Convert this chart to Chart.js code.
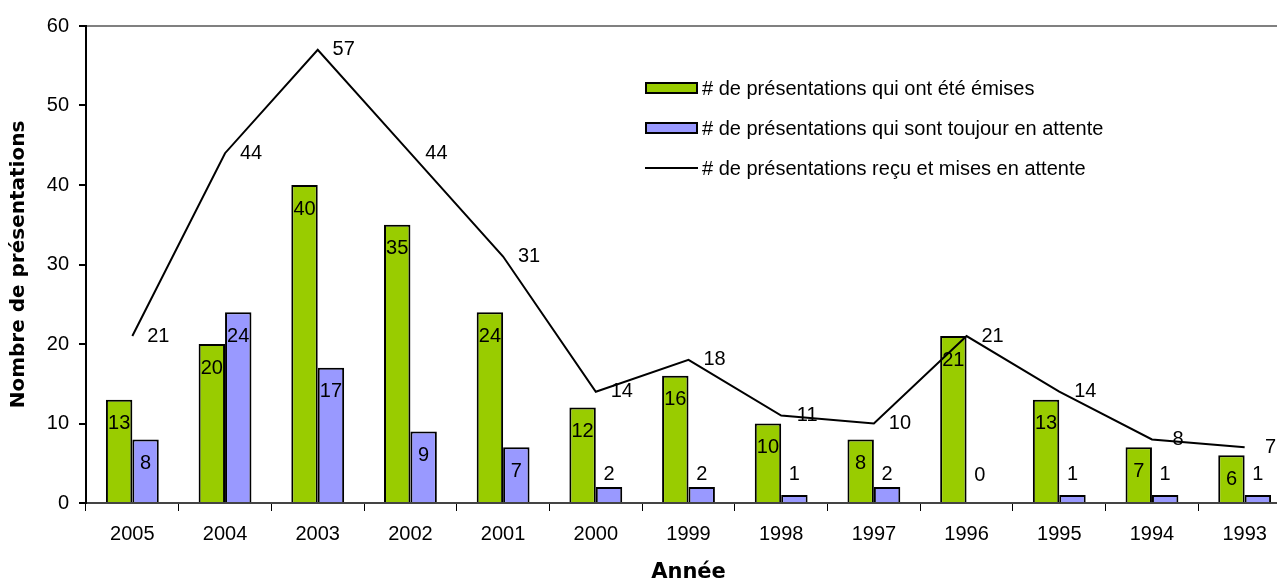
<!DOCTYPE html>
<html>
<head>
<meta charset="UTF-8"/>
<title>Présentations par année</title>
<script src="https://cdn.jsdelivr.net/npm/chart.js@4"></script>
<style>
    html, body { margin: 0; padding: 0; background: #fff; overflow: hidden; }
    #wrap { position: relative; width: 1292px; height: 582px; }
    #legend { position: absolute; left: 645px; top: 76px; font-family: "Liberation Sans", Arial, sans-serif; font-size: 20px; color: #000; }
    .row { display: flex; align-items: center; height: 24px; margin-bottom: 16px; white-space: nowrap; }
    .sw { width: 49px; height: 8px; border: 2px solid #000; margin-right: 4px; }
    .ln { width: 53px; height: 2px; background: #000; margin-right: 4px; }
</style>
</head>
<body>
<div id="wrap">
    <canvas id="chart"></canvas>
    <div id="legend"></div>
</div>
<script>
    // données du graphique
    var annees = ['2005', '2004', '2003', '2002', '2001', '2000', '1999', '1998', '1997', '1996', '1995', '1994', '1993'];
    var emises = [13, 20, 40, 35, 24, 12, 16, 10, 8, 21, 13, 7, 6];
    var enAttente = [8, 24, 17, 9, 7, 2, 2, 1, 2, 0, 1, 1, 1];
    var recues = [21, 44, 57, 44, 31, 14, 18, 11, 10, 21, 14, 8, 7];
    var yTicks = [0, 10, 20, 30, 40, 50, 60];

    var nomEmises = '# de présentations qui ont été émises';
    var nomAttente = '# de présentations qui sont toujour en attente';
    var nomRecues = '# de présentations reçu et mises en attente';

    var police = '"Liberation Sans", Arial, sans-serif';
    var policeTitre = '"DejaVu Sans", sans-serif';

    // étiquettes de valeurs (comme dans Excel)
    var etiquettes = {
        id: 'etiquettes',
        afterDatasetsDraw: function(chart) {
            var ctx = chart.ctx;
            ctx.save();
            ctx.font = '20px ' + police;
            ctx.fillStyle = '#000';
            ctx.textAlign = 'center';
            ctx.textBaseline = 'middle';
            chart.data.datasets.forEach(function(ds, i) {
                var meta = chart.getDatasetMeta(i);
                meta.data.forEach(function(el, j) {
                    var v = ds.data[j];
                    if (ds.type === 'line') {
                        ctx.fillText(v, el.x + 26, el.y);
                    } else {
                        var y = el.y + 24;
                        if (el.base - el.y < 22) y = el.base - 28;
                        ctx.fillText(v, el.x, y);
                    }
                });
            });
            ctx.restore();
        }
    };

    var ctx = document.getElementById('chart').getContext('2d');
    var chart = new Chart(ctx, {
        data: {
            labels: annees,
            datasets: [
                {
                    type: 'line',
                    label: nomRecues,
                    data: recues,
                    borderColor: '#000',
                    borderWidth: 2,
                    pointRadius: 0,
                    tension: 0,
                    order: 0
                },
                {
                    type: 'bar',
                    label: nomEmises,
                    data: emises,
                    backgroundColor: '#99cc00',
                    borderColor: '#000',
                    borderWidth: 2,
                    categoryPercentage: 0.57,
                    barPercentage: 1,
                    order: 1
                },
                {
                    type: 'bar',
                    label: nomAttente,
                    data: enAttente,
                    backgroundColor: '#9999ff',
                    borderColor: '#000',
                    borderWidth: 2,
                    categoryPercentage: 0.57,
                    barPercentage: 1,
                    order: 1
                }
            ]
        },
        options: {
            responsive: true,
            maintainAspectRatio: false,
            animation: false,
            layout: { padding: { top: 26, right: 1, left: 0, bottom: 0 } },
            plugins: {
                legend: { display: false },
                tooltip: { enabled: false }
            },
            scales: {
                x: {
                    offset: true,
                    grid: {
                        offset: true,
                        color: 'rgba(0,0,0,0)',
                        tickColor: '#000',
                        tickLength: 8
                    },
                    border: { color: '#444', width: 2 },
                    ticks: { color: '#000', font: { family: police, size: 20 }, padding: 11 },
                    title: {
                        display: true,
                        text: 'Année',
                        color: '#000',
                        font: { family: policeTitre, size: 21, weight: 'bold' },
                        padding: { top: 0, bottom: -3 }
                    },
                    afterFit: function(s) { s.height = 79; }
                },
                y: {
                    min: 0,
                    max: 60,
                    afterBuildTicks: function(s) {
                        s.ticks = yTicks.map(function(v) { return { value: v }; });
                    },
                    grid: {
                        color: function(c) { return c.tick && c.tick.value === 60 ? '#808080' : 'rgba(0,0,0,0)'; },
                        lineWidth: 2,
                        tickColor: '#000',
                        tickLength: 7
                    },
                    border: { color: '#000', width: 2 },
                    ticks: { color: '#000', font: { family: police, size: 20 }, padding: 10 },
                    title: {
                        display: true,
                        text: 'Nombre de présentations',
                        color: '#000',
                        font: { family: policeTitre, size: 20, weight: 'bold' },
                        padding: { top: 7, bottom: 0 }
                    },
                    afterFit: function(s) { s.width = 86; }
                }
            }
        },
        plugins: [etiquettes]
    });

    // légende dans la zone du graphique
    var leg = document.getElementById('legend');
    [[nomEmises, 'sw', '#99cc00'], [nomAttente, 'sw', '#9999ff'], [nomRecues, 'ln', '#000']].forEach(function(it) {
        var row = document.createElement('div');
        row.className = 'row';
        var mk = document.createElement('span');
        mk.className = it[1];
        mk.style.background = it[2];
        row.appendChild(mk);
        var t = document.createElement('span');
        t.textContent = it[0];
        row.appendChild(t);
        leg.appendChild(row);
    });
</script>
</body>
</html>
